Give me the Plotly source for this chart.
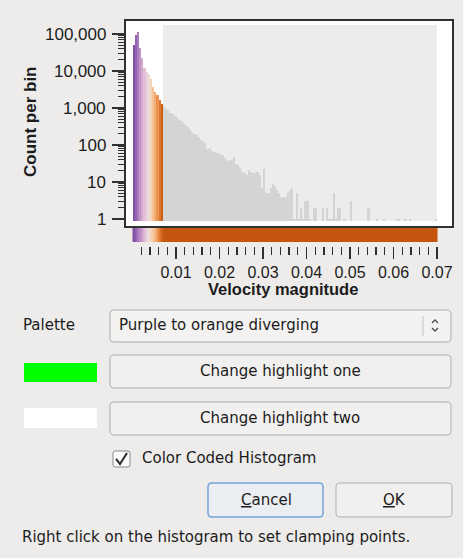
import math
import plotly.graph_objects as go

W, H = 463, 558
HP = 558.0   # vertical extent of the paper

# ---------------- data ----------------
bin_width = 0.0005          # velocity magnitude per bin
clamp_max = 0.007           # upper clamping point of the colour palette
counts = [
    50000, 95000, 110000, 42000, 22000, 12000, 9500, 8500, 6000, 3800,
    2700, 2200, 1600, 1300, 1100, 950, 880, 740, 700, 590,
    560, 480, 450, 380, 350, 300, 270, 220, 200, 190,
    160, 140, 127, 110, 80, 85, 68, 66, 62, 60,
    55, 53, 45, 39, 38, 40, 48, 30, 28, 26,
    19, 18, 15, 21, 19, 18, 17, 19, 15, 7,
    22, 5, 5, 7, 9, 8, 6, 5, 4, 4,
    4, 5, 6, 7, 1, 5, 1, 2, 1, 3,
    3, 1, 0, 2, 2, 0, 0, 2, 0, 2,
    1, 1, 5, 1, 2, 2, 0, 1, 0, 0,
    3, 0, 0, 0, 0, 0, 0, 0, 2, 0,
    0, 0, 1, 0, 0, 1, 0, 0, 0, 0,
    0, 1, 1, 0, 0, 1, 0, 1, 0, 0,
    0, 0, 0, 0, 0, 0, 0, 0, 0, 1,
]
y_tick_vals = [1, 10, 100, 1000, 10000, 100000]
y_tick_text = ["1", "10", "100", "1,000", "10,000", "100,000"]
x_tick_vals = [0.01, 0.02, 0.03, 0.04, 0.05, 0.06, 0.07]
x_tick_text = ["0.01", "0.02", "0.03", "0.04", "0.05", "0.06", "0.07"]
x_title = "Velocity magnitude"
y_title = "Count per bin"
palette_name = "Purple to orange diverging"

PALETTE = [
    [0.0, "#774a9e"], [0.12, "#9466b3"], [0.25, "#c392c7"], [0.38, "#e3bbd7"],
    [0.5, "#e9e0e0"], [0.62, "#f7d3b4"], [0.75, "#f4ac72"], [0.88, "#e27c33"],
    [1.0, "#c5560f"],
]

# ---------------- geometry helpers (pixels -> paper) ----------------
def px(x):
    return x / W

def py(y):
    return 1 - y / HP

X0_PX, X_PER_UNIT = 132.5, 4350.0
def xdata(p):
    return (p - X0_PX) / X_PER_UNIT

LOG_PER_PX = 1 / 37.0
def ylog(p):
    return (219 - p) * LOG_PER_PX

x_range = [xdata(125), xdata(453)]
x_dom = [px(125), px(453)]

centers = [bin_width * (i + 0.5) for i in range(len(counts))]
col_x = [c for c in centers if c < clamp_max]
col_y = [v if v > 0 else None for c, v in zip(centers, counts) if c < clamp_max]
gry_x = [c for c in centers if c >= clamp_max]
gry_y = [v if v > 0 else None for c, v in zip(centers, counts) if c >= clamp_max]

AX_FONT = "Liberation Sans, Arial, sans-serif"
GUI_FONT = "DejaVu Sans, sans-serif"
TXT = "#1c1c1c"
BG = "#edeceb"

fig = go.Figure()
fig.add_trace(go.Bar(x=col_x, y=col_y, width=bin_width,
                     marker=dict(color=col_x, colorscale=PALETTE, cmin=0, cmax=clamp_max,
                                 line=dict(width=0)),
                     hoverinfo="skip", showlegend=False))
fig.add_trace(go.Bar(x=gry_x, y=gry_y, width=bin_width,
                     marker=dict(color="#d4d4d4", line=dict(width=0)),
                     hoverinfo="skip", showlegend=False))
# palette strip
fig.add_trace(go.Heatmap(x=centers, y=[0], z=[[min(c, clamp_max) for c in centers]],
                         colorscale=PALETTE, zmin=0, zmax=clamp_max, zsmooth="best",
                         showscale=False, hoverinfo="skip", xaxis="x2", yaxis="y2"))
# tick carrier
fig.add_trace(go.Scatter(x=[], y=[], xaxis="x3", yaxis="y3", showlegend=False, hoverinfo="skip"))

shapes = []
def rrect(x0, y0, x1, y1, r, fill, line, lw=1.0):
    def P(x, y):
        return f"{px(x):.5f},{py(y):.5f}"
    path = (f"M {P(x0 + r, y0)} L {P(x1 - r, y0)} Q {P(x1, y0)} {P(x1, y0 + r)} "
            f"L {P(x1, y1 - r)} Q {P(x1, y1)} {P(x1 - r, y1)} L {P(x0 + r, y1)} "
            f"Q {P(x0, y1)} {P(x0, y1 - r)} L {P(x0, y0 + r)} Q {P(x0, y0)} {P(x0 + r, y0)} Z")
    shapes.append(dict(type="path", xref="paper", yref="paper", path=path,
                       fillcolor=fill, line=dict(color=line, width=lw), layer="below"))

# white histogram box + gray clamped panel + frame
shapes.append(dict(type="rect", xref="paper", yref="paper", x0=px(125), x1=px(453),
                   y0=py(227), y1=py(20), fillcolor="white", line=dict(width=0), layer="below"))
shapes.append(dict(type="rect", xref="x", yref="paper", x0=clamp_max, x1=0.07,
                   y0=py(221), y1=py(25), fillcolor="#ececec", line=dict(width=0), layer="below"))
shapes.append(dict(type="rect", xref="paper", yref="paper", x0=px(125), x1=px(453),
                   y0=py(227), y1=py(20), fillcolor="rgba(0,0,0,0)",
                   line=dict(color="#303030", width=2), layer="above"))

# GUI widgets
rrect(110, 310, 451, 342, 4, "#f3f2f1", "#aeacaa")               # combo
rrect(110, 355, 451, 388, 4, "#f1f0ef", "#aeacaa")               # button one
rrect(110, 402, 451, 435, 4, "#f1f0ef", "#aeacaa")               # button two
rrect(208, 483, 323, 517, 4, "#eaedf2", "#78a3d8", 1.5)          # cancel
rrect(336, 483, 452, 517, 4, "#f1f0ef", "#aeacaa")               # ok
rrect(113, 451, 130, 467, 2, "#fafafa", "#8c8a88")               # checkbox
shapes.append(dict(type="rect", xref="paper", yref="paper", x0=px(24), x1=px(97),
                   y0=py(382), y1=py(363), fillcolor="#00ff00", line=dict(width=0)))
shapes.append(dict(type="rect", xref="paper", yref="paper", x0=px(24), x1=px(97),
                   y0=py(428), y1=py(408), fillcolor="#ffffff", line=dict(width=0)))
shapes.append(dict(type="line", xref="paper", yref="paper", x0=px(423), x1=px(423),
                   y0=py(316), y1=py(336), line=dict(color="#c4c2c0", width=1)))
def polyline(pts, color, w):
    d = "M " + " L ".join(f"{px(x):.5f},{py(y):.5f}" for x, y in pts)
    shapes.append(dict(type="path", xref="paper", yref="paper", path=d,
                       line=dict(color=color, width=w)))
polyline([(432, 323), (435, 320), (438, 323)], "#4a4a4a", 1.3)
polyline([(432, 328), (435, 331), (438, 328)], "#4a4a4a", 1.3)
polyline([(116, 459), (120, 464), (127, 453)], "#2a2a2a", 2)

ann = []
def text(x, y, s, size=15, anchor="left", font=GUI_FONT, angle=0):
    ann.append(dict(x=px(x), y=py(y), xref="paper", yref="paper", text=s, showarrow=False,
                    xanchor=anchor, yanchor="middle", textangle=angle,
                    font=dict(family=font, size=size, color=TXT)))

text(21, 325, "Palette")
text(117, 325, palette_name)
text(280, 371, "Change highlight one", anchor="center")
text(280, 418, "Change highlight two", anchor="center")
text(140, 458, "Color Coded Histogram")
text(266, 500, "<span style='text-decoration:underline'>C</span>ancel", anchor="center")
text(394, 500, "<span style='text-decoration:underline'>O</span>K", anchor="center")
text(20, 537, "Right click on the histogram to set clamping points.")
text(283, 289, f"<b>{x_title}</b>", size=16.5, anchor="center", font=AX_FONT)
text(31, 122, f"<b>{y_title}</b>", size=17, anchor="center", font=AX_FONT, angle=-90)

# y tick labels placed on the log axis
for v, t in zip(y_tick_vals, y_tick_text):
    ann.append(dict(x=px(108), xref="paper", y=math.log10(v), yref="y", text=t,
                    showarrow=False, xanchor="right", yanchor="middle",
                    font=dict(family=AX_FONT, size=17, color=TXT)))

y_minor = [m * d for d in [1, 10, 100, 1000, 10000] for m in range(2, 10)]
x_minor = [round(0.002 * k, 4) for k in range(1, 36) if k % 5 != 0]

fig.update_layout(
    width=W, height=H, margin=dict(l=0, r=0, t=0, b=0), autosize=False,
    paper_bgcolor=BG, plot_bgcolor="rgba(0,0,0,0)",
    bargap=0, barmode="overlay", showlegend=False, hovermode=False,
    shapes=shapes, annotations=ann,
    xaxis=dict(domain=x_dom, range=x_range, visible=False, fixedrange=True),
    yaxis=dict(domain=[py(221), py(20)], type="log", range=[ylog(221), ylog(20)],
               anchor="x", showgrid=False, zeroline=False, showline=False,
               tickmode="array", tickvals=y_tick_vals, showticklabels=False,
               ticks="outside", ticklen=12, tickwidth=1.6, tickcolor="#303030",
               minor=dict(tickvals=y_minor, ticks="outside", ticklen=6, tickwidth=1.2,
                          tickcolor="#303030", showgrid=False)),
    xaxis2=dict(domain=x_dom, range=x_range, visible=False, anchor="y2"),
    yaxis2=dict(domain=[py(242), py(228)], range=[-0.5, 0.5], visible=False, anchor="x2"),
    xaxis3=dict(domain=x_dom, range=x_range, anchor="y3", showgrid=False, zeroline=False,
                showline=False, tickmode="array", tickvals=x_tick_vals, ticktext=x_tick_text,
                ticks="outside", ticklen=12, tickwidth=1.8, tickcolor="#303030",
                ticklabelstandoff=0,
                tickfont=dict(family=AX_FONT, size=16, color=TXT),
                minor=dict(tickvals=x_minor, ticks="outside", ticklen=8, tickwidth=1.3,
                           tickcolor="#303030", showgrid=False)),
    yaxis3=dict(domain=[py(245.6), py(245)], range=[0, 1], visible=False, anchor="x3"),
)

fig.write_html("out.html", config={"displayModeBar": False, "staticPlot": True},
               post_script="document.body.style.margin='0px';document.body.style.overflow='hidden';"
                           "document.body.style.background='" + BG + "';")
